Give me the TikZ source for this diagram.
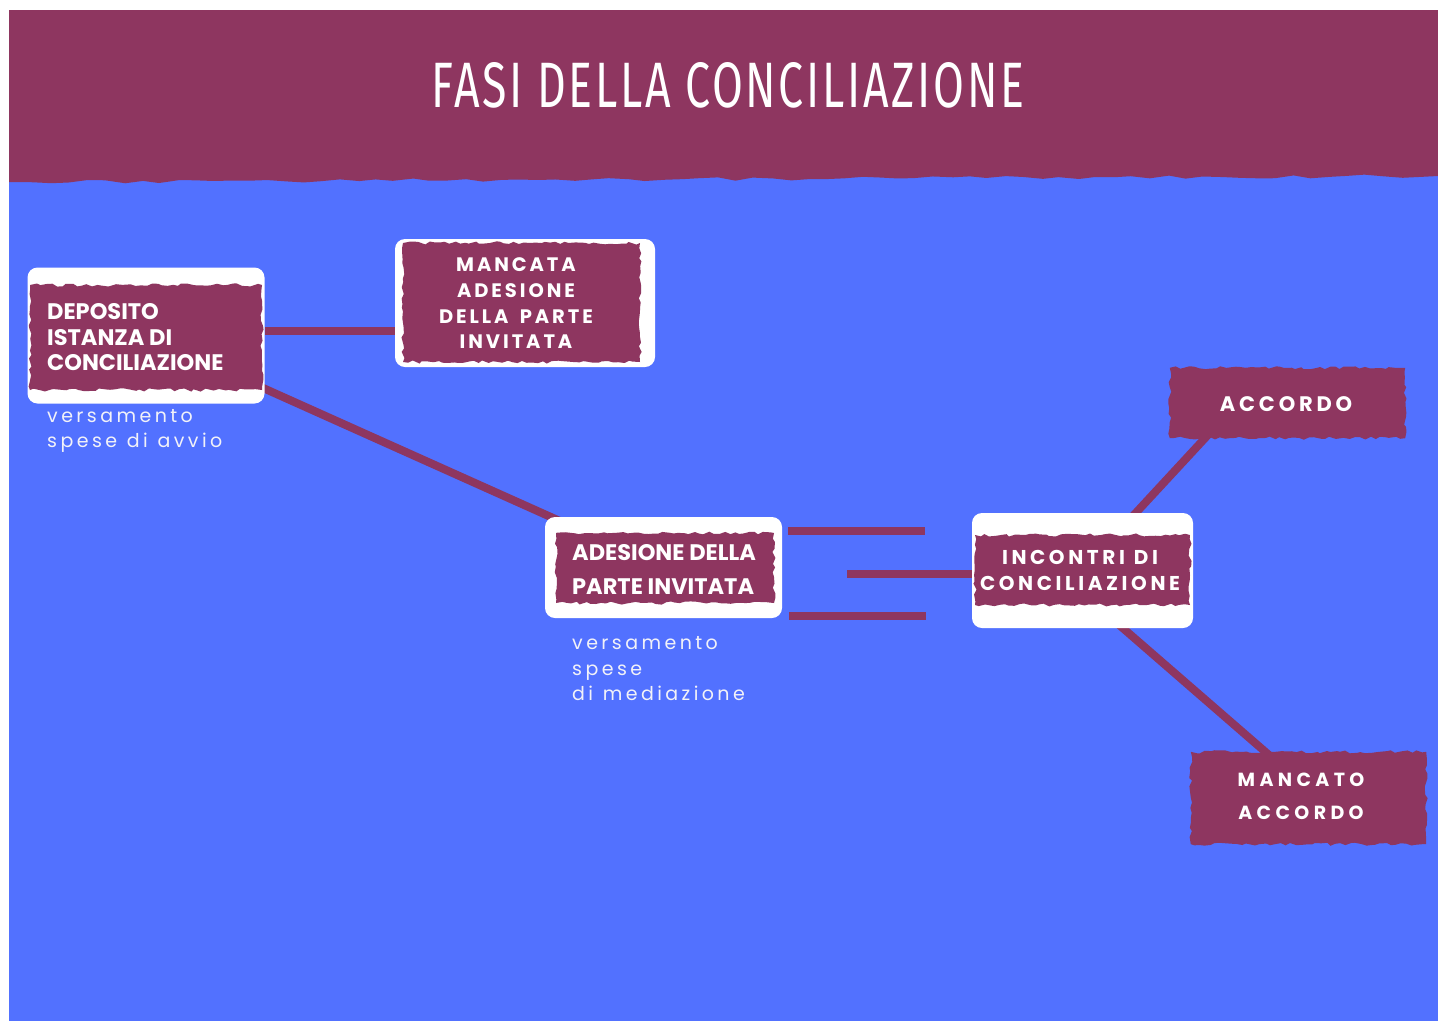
\documentclass[tikz,border=0pt]{standalone}
\usepackage{fontspec}
\usetikzlibrary{decorations.pathmorphing,calc}
\setmainfont{Poppins}
\newfontfamily\titlefont[LetterSpace=6]{Fira Sans}
\newfontfamily\popA{Poppins}
\newfontfamily\popB[LetterSpace=15,WordSpace=1.6]{Poppins}
\newfontfamily\popC[LetterSpace=18,WordSpace=1.8]{Poppins}
\newfontfamily\popD[LetterSpace=23]{Poppins}
\newfontfamily\popL[LetterSpace=18,WordSpace=1.15]{Poppins}
\definecolor{mroon}{HTML}{8E3660}
\definecolor{bluebg}{HTML}{5271FF}
\definecolor{softwhite}{HTML}{F2F2F8}
\pgfdeclarelayer{bg}
\pgfsetlayers{bg,main}
\begin{document}
\begin{tikzpicture}[x=1pt,y=-1pt,
  wbox/.style={fill=white, rounded corners=10pt, inner sep=0pt, draw=none},
  ghost/.style={inner sep=0pt, draw=none},
  torn/.style={fill=mroon, decorate, decoration={random steps, segment length=5pt, amplitude=1.6pt}},
  link/.style={draw=mroon, line width=8pt},
  lbl/.style={text=white, inner sep=0pt},
  note/.style={text=softwhite, inner sep=0pt, align=left, anchor=west, font=\popL\fontsize{19}{25.5}\selectfont}
]
\pgfmathsetseed{12}
\useasboundingbox (0,0) rectangle (1438,1021);
\begin{pgfonlayer}{bg}
\fill[white] (0,0) rectangle (1438,1021);
\fill[bluebg] (9,10) rectangle (1438,1021);
\fill[mroon] (9,10) -- (1438,10) -- (1438,176)
  decorate[decoration={random steps, segment length=18pt, amplitude=1.8pt}]{-- (9,182)} -- cycle;
\end{pgfonlayer}

% boxes
\node[wbox, minimum width=237pt, minimum height=136pt] (dep) at (146,335.5) {};
\node[wbox, minimum width=260pt, minimum height=128pt] (man) at (525,303) {};
\node[wbox, minimum width=237pt, minimum height=101pt] (ade) at (663.5,567.5) {};
\node[wbox, minimum width=221pt, minimum height=115pt] (inc) at (1082.5,570.5) {};
\node[ghost, minimum width=235pt, minimum height=70pt] (acc) at (1287.5,403) {};
\node[ghost, minimum width=235pt, minimum height=92pt] (mac) at (1308.5,798) {};

\coordinate (t1) at (788,531);
\coordinate (t2) at (925,531);
\coordinate (m1) at (847,574);
\coordinate (b1) at (789,616);
\coordinate (b2) at (926,616);

\begin{pgfonlayer}{bg}
\draw[link] ([yshift=4.5pt]dep.east) -- ([yshift=-28pt]man.west);
\draw[link] (dep.center) -- (ade.center);
\draw[link] (t1) -- (t2);
\draw[link] (m1) -- (inc.west |- m1);
\draw[link] (b1) -- (b2);
\draw[link] (inc.center) -- ([xshift=-50pt]acc.center);
\draw[link] ([xshift=-26pt]inc.center) -- ([xshift=10pt]mac.center);
\end{pgfonlayer}

% torn labels
\fill[torn] (30,285) rectangle (262,390);
\fill[torn] (403,243) rectangle (640,362);
\fill[torn] (556,533) rectangle (774,603);
\fill[torn] (975,535) rectangle (1190,605);
\fill[torn] (acc.north west) rectangle (acc.south east);
\fill[torn] (mac.north west) rectangle (mac.south east);

% title
\node[lbl] (title) at (728,85.5) {\resizebox{592pt}{45pt}{\titlefont FASI DELLA CONCILIAZIONE}};

% texts
\node[lbl, anchor=west, align=left, font=\popA\bfseries\fontsize{22.5}{25.5}\selectfont] (tdep) at (47,337.5) {DEPOSITO\\ISTANZA DI\\CONCILIAZIONE};
\node[lbl, align=center, font=\popB\bfseries\fontsize{19.5}{25.7}\selectfont] (tman) at (516,303.5) {MANCATA\\ADESIONE\\DELLA PARTE\\INVITATA};
\node[lbl, anchor=west, align=left, font=\popA\bfseries\fontsize{22.5}{34}\selectfont] (tade) at (572,569) {ADESIONE DELLA\\PARTE INVITATA};
\node[lbl, align=center, font=\popC\bfseries\fontsize{20}{26}\selectfont] (tinc) at (1080,570) {INCONTRI DI\\CONCILIAZIONE};
\node[lbl, font=\popC\bfseries\fontsize{21}{26}\selectfont] (tacc) at (1286,404) {ACCORDO};
\node[lbl, align=center, font=\popD\bfseries\fontsize{19}{33}\selectfont] (tmac) at (1301,796.5) {MANCATO\\ACCORDO};

\node[note] (n1) at (47,431) {versamento\\spese di avvio};
\node[note] (n2) at (572,669) {versamento\\spese\\di mediazione};
\end{tikzpicture}
\end{document}
